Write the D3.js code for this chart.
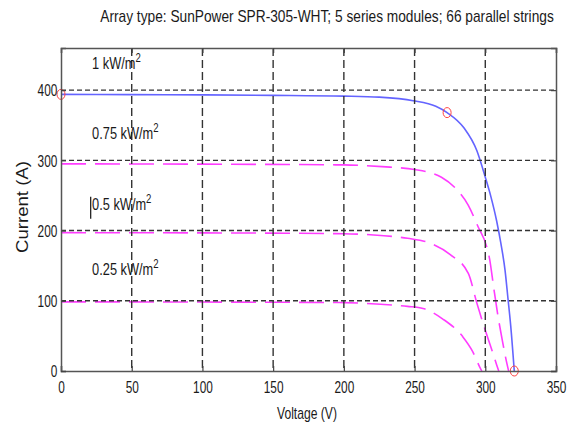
<!DOCTYPE html>
<html>
<head>
<meta charset="utf-8">
<script src="https://cdn.jsdelivr.net/npm/d3@7"></script>
<style>
  body { margin: 0; background: #fff; }
  text { font-family: "Liberation Sans", Arial, sans-serif; fill: #1a1a1a; }
</style>
</head>
<body>
<div id="chart"></div>
<script>
// I-V curves
var v1000 = [0, 50, 100, 150, 200, 225, 249, 265, 273, 285, 294, 300, 304, 308, 311, 314, 316, 318, 320.5];
var i1000 = [394, 393.6, 393.2, 392.6, 391.5, 390, 385, 377, 368, 346, 314, 276, 248, 214, 182, 143, 104, 64, 0];
var v750 = [0, 100, 200, 227, 250, 269, 280, 288, 295, 301, 303, 306, 309, 312, 314.5, 316.5];
var i750 = [295, 294.6, 293.5, 291, 287, 276, 258, 236, 205, 177, 160, 118, 78, 44, 18, 0];
var v500 = [0, 100, 200, 226, 245, 261, 275, 288, 294, 300, 304, 308, 309.5];
var i500 = [197, 196.7, 195.5, 193, 189, 182, 166, 139, 97, 58, 34, 9, 0];
var v250 = [0, 100, 200, 226, 245, 256, 270, 284, 291, 296, 297.5];
var i250 = [98.5, 98.2, 97.4, 95, 92, 89, 74, 49, 28, 6, 0];
var mppPoints = [[0, 394], [273, 368], [320.5, 0]];
var xTicks = [0, 50, 100, 150, 200, 250, 300, 350];
var yTicks = [0, 100, 200, 300, 400];
var labels = ["1 kW/m", "0.75 kW/m", "0.5 kW/m", "0.25 kW/m"];
var labelCurrent = [430, 330, 230, 137];

var width = 574, height = 427;
var margin = {left: 61, right: 18, top: 48, bottom: 56};
var pw = width - margin.left - margin.right;
var ph = height - margin.top - margin.bottom;

var svg = d3.select("#chart").append("svg")
    .attr("width", width)
    .attr("height", height);

var x = d3.scaleLinear().domain([0, 350]).range([0, pw]);
var y = d3.scaleLinear().domain([0, 460]).range([ph, 0]);

var g = svg.append("g").attr("transform", "translate(" + margin.left + "," + margin.top + ")");

// curves
var line = d3.line()
    .x(d => x(d[0]))
    .y(d => y(d[1]))
    .curve(d3.curveMonotoneX);

function pairs(v, i) { return v.map((d, k) => [d, i[k]]); }

var dashed = [pairs(v750, i750), pairs(v500, i500), pairs(v250, i250)];
g.selectAll(".irr")
    .data(dashed)
    .join("path")
    .attr("class", "irr")
    .attr("d", line)
    .attr("fill", "none")
    .attr("stroke", "#ff3cff")
    .attr("stroke-width", 1.6)
    .attr("stroke-dasharray", "25,9");

g.append("path")
    .attr("d", line(pairs(v1000, i1000)))
    .attr("fill", "none")
    .attr("stroke", "#6464ff")
    .attr("stroke-width", 1.6);

// grid
g.selectAll(".vgrid")
    .data(xTicks.filter(d => d > 0 && d < 350))
    .join("line")
    .attr("x1", d => x(d)).attr("x2", d => x(d))
    .attr("y1", 0).attr("y2", ph)
    .attr("stroke", "#333")
    .attr("stroke-width", 1.4)
    .attr("stroke-dasharray", "8,4");

g.selectAll(".hgrid")
    .data(yTicks.filter(d => d > 0))
    .join("line")
    .attr("x1", 0).attr("x2", pw)
    .attr("y1", d => y(d)).attr("y2", d => y(d))
    .attr("stroke", "#333")
    .attr("stroke-width", 1.4)
    .attr("stroke-dasharray", "5,3");

// red circles
g.selectAll(".mpp")
    .data(mppPoints)
    .join("ellipse")
    .attr("cx", d => x(d[0]))
    .attr("cy", d => y(d[1]))
    .attr("rx", 4)
    .attr("ry", 5)
    .attr("fill", "none")
    .attr("stroke", "#ff4040")
    .attr("stroke-width", 1);

// axes
var sx = 0.74;
var xAxis = g.append("g")
    .attr("transform", "translate(0," + ph + ")")
    .call(d3.axisBottom(x).tickValues(xTicks).tickSize(-5).tickPadding(11));
var xTop = g.append("g")
    .call(d3.axisTop(x).tickValues(xTicks).tickSize(-5).tickFormat(""));
var yAxis = g.append("g")
    .call(d3.axisLeft(y).tickValues(yTicks).tickSize(-5).tickPadding(5));
var yRight = g.append("g")
    .attr("transform", "translate(" + pw + ",0)")
    .call(d3.axisRight(y).tickValues(yTicks).tickSize(-5).tickFormat(""));

[xAxis, xTop, yAxis, yRight].forEach(function(a) {
  a.select(".domain").attr("stroke", "#555").attr("stroke-width", 1.5);
  a.selectAll(".tick line").attr("stroke", "#444").attr("stroke-width", 1.2);
  a.selectAll("text")
    .style("font-family", '"Liberation Sans", Arial, sans-serif')
    .style("font-size", "16px")
    .attr("fill", "#1a1a1a")
    .attr("transform", "scale(" + sx + ",1)");
});
yAxis.selectAll("text").attr("dy", "0.36em");

// irradiance labels
labels.forEach(function(t, k) {
  var lx = x(22), ly = y(labelCurrent[k]);
  var tx = g.append("text")
      .attr("transform", "translate(" + (lx) + "," + ly + ") scale(0.8,1)")
      .style("font-size", "16px");
  tx.append("tspan").text(t);
  tx.append("tspan").attr("dy", -7).style("font-size", "12px").text("2");
});
// stray cursor mark beside the 0.5 label
g.append("line")
    .attr("x1", x(21)).attr("x2", x(21))
    .attr("y1", y(248)).attr("y2", y(217))
    .attr("stroke", "#111").attr("stroke-width", 1.2);

// titles, squeezed to the widths seen in the picture
function fitted(cx, cy, str, size, w, rot) {
  var t = svg.append("text")
      .attr("text-anchor", "middle")
      .style("font-size", size + "px")
      .text(str);
  var s = w / t.node().getComputedTextLength();
  t.attr("transform", "translate(" + cx + "," + cy + ")" + (rot ? " rotate(-90)" : "") + " scale(" + s + ",1)");
  return t;
}
fitted(327, 22, "Array type: SunPower SPR-305-WHT; 5 series modules; 66 parallel strings", 16, 454);
fitted(307, 419, "Voltage (V)", 16, 60);
fitted(28, 207, "Current (A)", 16, 92, true);
</script>
</body>
</html>
